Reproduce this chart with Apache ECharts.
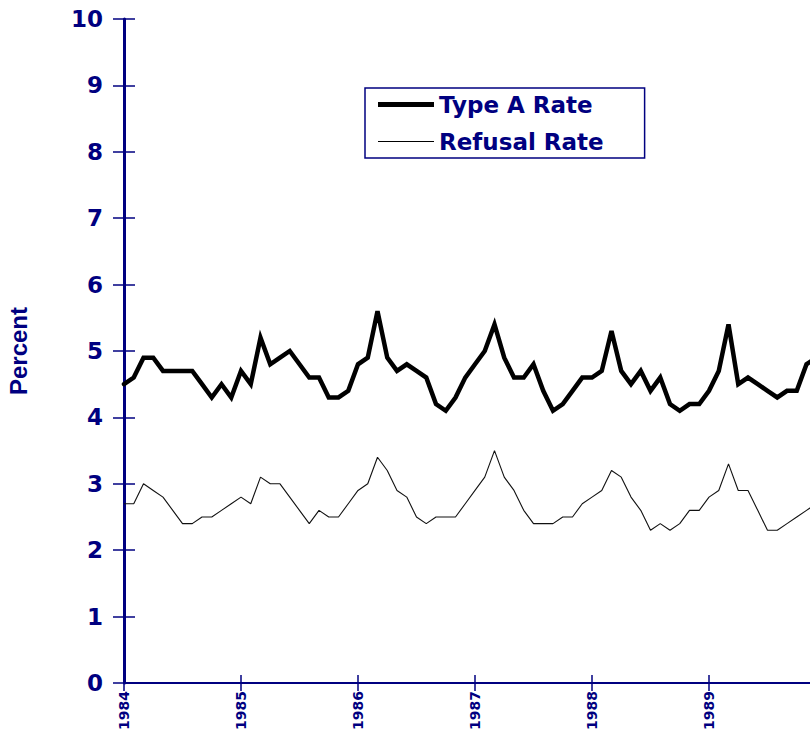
<!DOCTYPE html>
<html>
<head>
<meta charset="utf-8">
<script src="https://cdn.jsdelivr.net/npm/echarts@6/dist/echarts.min.js"></script>
<style>
html,body{margin:0;padding:0;background:#fff;overflow:hidden;width:810px;height:732px;}
#chart{width:830px;height:732px;}
</style>
</head>
<body>
<div id="chart"></div>
<script>
// Monthly values, Jan 1984 .. Dec 1989
var typeARate = [
  4.5, 4.6, 4.9, 4.9, 4.7, 4.7, 4.7, 4.7, 4.5, 4.3, 4.5, 4.3,
  4.7, 4.5, 5.2, 4.8, 4.9, 5.0, 4.8, 4.6, 4.6, 4.3, 4.3, 4.4,
  4.8, 4.9, 5.6, 4.9, 4.7, 4.8, 4.7, 4.6, 4.2, 4.1, 4.3, 4.6,
  4.8, 5.0, 5.4, 4.9, 4.6, 4.6, 4.8, 4.4, 4.1, 4.2, 4.4, 4.6,
  4.6, 4.7, 5.3, 4.7, 4.5, 4.7, 4.4, 4.6, 4.2, 4.1, 4.2, 4.2,
  4.4, 4.7, 5.4, 4.5, 4.6, 4.5, 4.4, 4.3, 4.4, 4.4, 4.8, 4.9
];
var refusalRate = [
  2.7, 2.7, 3.0, 2.9, 2.8, 2.6, 2.4, 2.4, 2.5, 2.5, 2.6, 2.7,
  2.8, 2.7, 3.1, 3.0, 3.0, 2.8, 2.6, 2.4, 2.6, 2.5, 2.5, 2.7,
  2.9, 3.0, 3.4, 3.2, 2.9, 2.8, 2.5, 2.4, 2.5, 2.5, 2.5, 2.7,
  2.9, 3.1, 3.5, 3.1, 2.9, 2.6, 2.4, 2.4, 2.4, 2.5, 2.5, 2.7,
  2.8, 2.9, 3.2, 3.1, 2.8, 2.6, 2.3, 2.4, 2.3, 2.4, 2.6, 2.6,
  2.8, 2.9, 3.3, 2.9, 2.9, 2.6, 2.3, 2.3, 2.4, 2.5, 2.6, 2.7
];
var yearLabels = ['1984', '1985', '1986', '1987', '1988', '1989', '1990'];
var yTickLabels = ['0', '1', '2', '3', '4', '5', '6', '7', '8', '9', '10'];
var seriesNames = ['Type A Rate', 'Refusal Rate'];

var NAVY = '#000080';

function toPairs(arr) {
  return arr.map(function (v, i) { return [i, v]; });
}

var chart = echarts.init(document.getElementById('chart'), null, { renderer: 'svg' });

var option = {
  animation: false,
  backgroundColor: '#ffffff',
  grid: { left: 124, top: 19, width: 702, height: 664, containLabel: false, outerBoundsMode: 'none' },
  legend: {
    left: 365,
    top: 88,
    orient: 'vertical',
    data: [
      { name: seriesNames[0], icon: 'path://M0,0 L56,0 L56,5 L0,5 Z' },
      { name: seriesNames[1], icon: 'path://M0,0 L56,0 L56,1.2 L0,1.2 Z' }
    ],
    itemWidth: 56,
    itemHeight: 22,
    itemGap: 14,
    padding: [5, 41, 5, 13],
    borderColor: NAVY,
    borderWidth: 1.5,
    backgroundColor: '#ffffff',
    selectedMode: false,
    textStyle: {
      color: NAVY,
      fontFamily: 'DejaVu Sans',
      fontWeight: 'bold',
      fontSize: 23
    }
  },
  xAxis: [
    {
      type: 'value',
      min: 0,
      max: 72,
      interval: 12,
      position: 'bottom',
      axisLine: { show: true, onZero: false, lineStyle: { color: NAVY, width: 2 } },
      axisTick: { show: true, length: 8, lineStyle: { color: NAVY, width: 1.5 } },
      splitLine: { show: false },
      axisLabel: {
        rotate: 90,
        margin: 8,
        color: NAVY,
        fontFamily: 'DejaVu Sans',
        fontWeight: 'bold',
        fontSize: 14,
        showMaxLabel: false,
        formatter: function (v) { return yearLabels[Math.round(v / 12)]; }
      }
    },
    {
      type: 'value',
      min: 0,
      max: 72,
      interval: 12,
      position: 'bottom',
      axisLine: { show: false, onZero: false },
      axisTick: { show: true, inside: true, length: 8, lineStyle: { color: NAVY, width: 1.5 } },
      splitLine: { show: false },
      axisLabel: { show: false }
    }
  ],
  yAxis: [
    {
      type: 'value',
      min: 0,
      max: 10,
      interval: 1,
      position: 'left',
      name: 'Percent',
      nameLocation: 'middle',
      nameRotate: 90,
      nameGap: 94,
      nameTextStyle: {
        color: NAVY,
        fontFamily: 'Liberation Sans',
        fontWeight: 'bold',
        fontSize: 24
      },
      axisLine: { show: true, onZero: false, lineStyle: { color: NAVY, width: 3 } },
      axisTick: { show: true, length: 11, lineStyle: { color: NAVY, width: 1.5 } },
      splitLine: { show: false },
      axisLabel: {
        margin: 21,
        color: NAVY,
        fontFamily: 'DejaVu Sans',
        fontWeight: 'bold',
        fontSize: 23,
        formatter: function (v) { return yTickLabels[Math.round(v)]; }
      }
    },
    {
      type: 'value',
      min: 0,
      max: 10,
      interval: 1,
      position: 'left',
      axisLine: { show: false, onZero: false },
      axisTick: { show: true, inside: true, length: 11, lineStyle: { color: NAVY, width: 1.5 } },
      splitLine: { show: false },
      axisLabel: { show: false }
    }
  ],
  series: [
    {
      name: seriesNames[0],
      type: 'line',
      xAxisIndex: 0,
      yAxisIndex: 0,
      data: toPairs(typeARate),
      symbol: 'none',
      color: '#000000',
      lineStyle: { color: '#000000', width: 4.5, cap: 'round', join: 'miter' }
    },
    {
      name: seriesNames[1],
      type: 'line',
      xAxisIndex: 0,
      yAxisIndex: 0,
      data: toPairs(refusalRate),
      symbol: 'none',
      color: '#000000',
      lineStyle: { color: '#111111', width: 1.1 }
    }
  ]
};

chart.setOption(option);
</script>
</body>
</html>
